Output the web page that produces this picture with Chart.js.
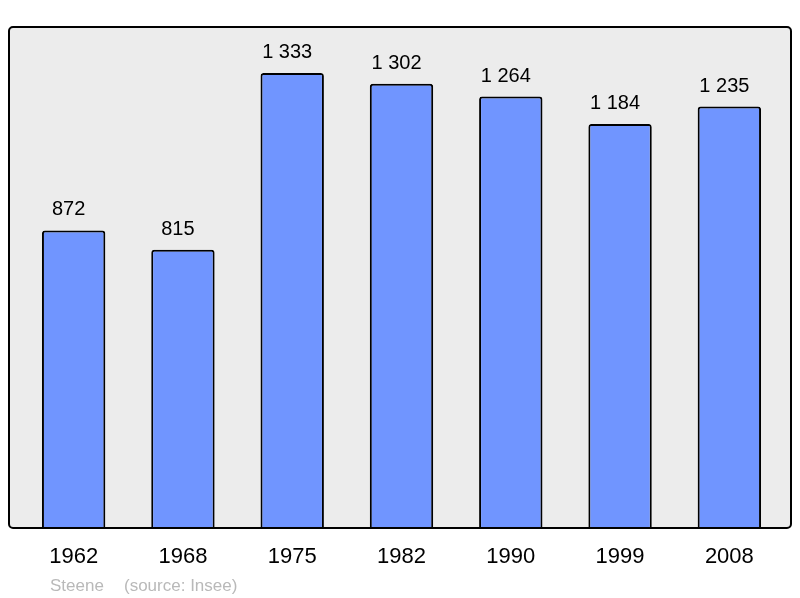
<!DOCTYPE html>
<html>
<head>
<meta charset="utf-8">
<script src="https://cdn.jsdelivr.net/npm/chart.js@4/dist/chart.umd.min.js"></script>
<style>
html,body{margin:0;padding:0;background:#fff;}
#wrap{width:800px;height:598px;position:relative;}
</style>
</head>
<body>
<div id="wrap"><canvas id="c" width="800" height="598"></canvas></div>
<script>
const years = ["1962", "1968", "1975", "1982", "1990", "1999", "2008"];
const population = [872, 815, 1333, 1302, 1264, 1184, 1235];
const valueLabels = ["872", "815", "1 333", "1 302", "1 264", "1 184", "1 235"];
const footerLeft = "Steene";
const footerRight = "(source: Insee)";

const framePlugin = {
  id: 'frame',
  beforeDatasetsDraw(chart) {
    const {ctx, chartArea: a} = chart;
    ctx.save();
    ctx.beginPath();
    ctx.roundRect(a.left - 10, a.top, (a.right + 7) - (a.left - 10), a.bottom - a.top, 4);
    ctx.fillStyle = '#ececec';
    ctx.fill();
    ctx.restore();
  },
  afterDatasetsDraw(chart) {
    const {ctx, chartArea: a} = chart;
    ctx.save();
    ctx.beginPath();
    ctx.roundRect(a.left - 10, a.top, (a.right + 7) - (a.left - 10), a.bottom - a.top, 4);
    ctx.lineWidth = 2;
    ctx.strokeStyle = '#000';
    ctx.stroke();
    // value labels
    const meta = chart.getDatasetMeta(0);
    ctx.font = '20px "Liberation Sans", Arial, sans-serif';
    ctx.fillStyle = '#000';
    ctx.textAlign = 'center';
    ctx.textBaseline = 'alphabetic';
    meta.data.forEach((bar, i) => {
      ctx.fillText(valueLabels[i], bar.x - 5, bar.y - 15);
    });
    // footer
    ctx.font = '17px "Liberation Sans", Arial, sans-serif';
    ctx.fillStyle = '#b9b9b9';
    ctx.textAlign = 'left';
    ctx.fillText(footerLeft, 50, 591);
    ctx.fillText(footerRight, 124, 591);
    ctx.restore();
  }
};

new Chart(document.getElementById('c'), {
  type: 'bar',
  data: {
    labels: years,
    datasets: [{
      data: population,
      backgroundColor: '#7095ff',
      borderColor: '#000',
      borderWidth: 2,
      borderRadius: 3,
      borderSkipped: 'bottom',
      categoryPercentage: 1,
      barPercentage: 0.58
    }]
  },
  options: {
    responsive: false,
    animation: false,
    layout: {padding: {left: 19, right: 16, top: 27, bottom: 0}},
    plugins: {legend: {display: false}, tooltip: {enabled: false}, title: {display: false}},
    scales: {
      x: {
        grid: {display: false, drawTicks: false},
        border: {display: false},
        ticks: {color: '#000', font: {size: 22, family: '"Liberation Sans", Arial, sans-serif'}, padding: 16, maxRotation: 0},
        afterFit(scale) { scale.height = 70; }
      },
      y: {
        display: false,
        min: 0,
        max: 1468
      }
    }
  },
  plugins: [framePlugin]
});
</script>
</body>
</html>
